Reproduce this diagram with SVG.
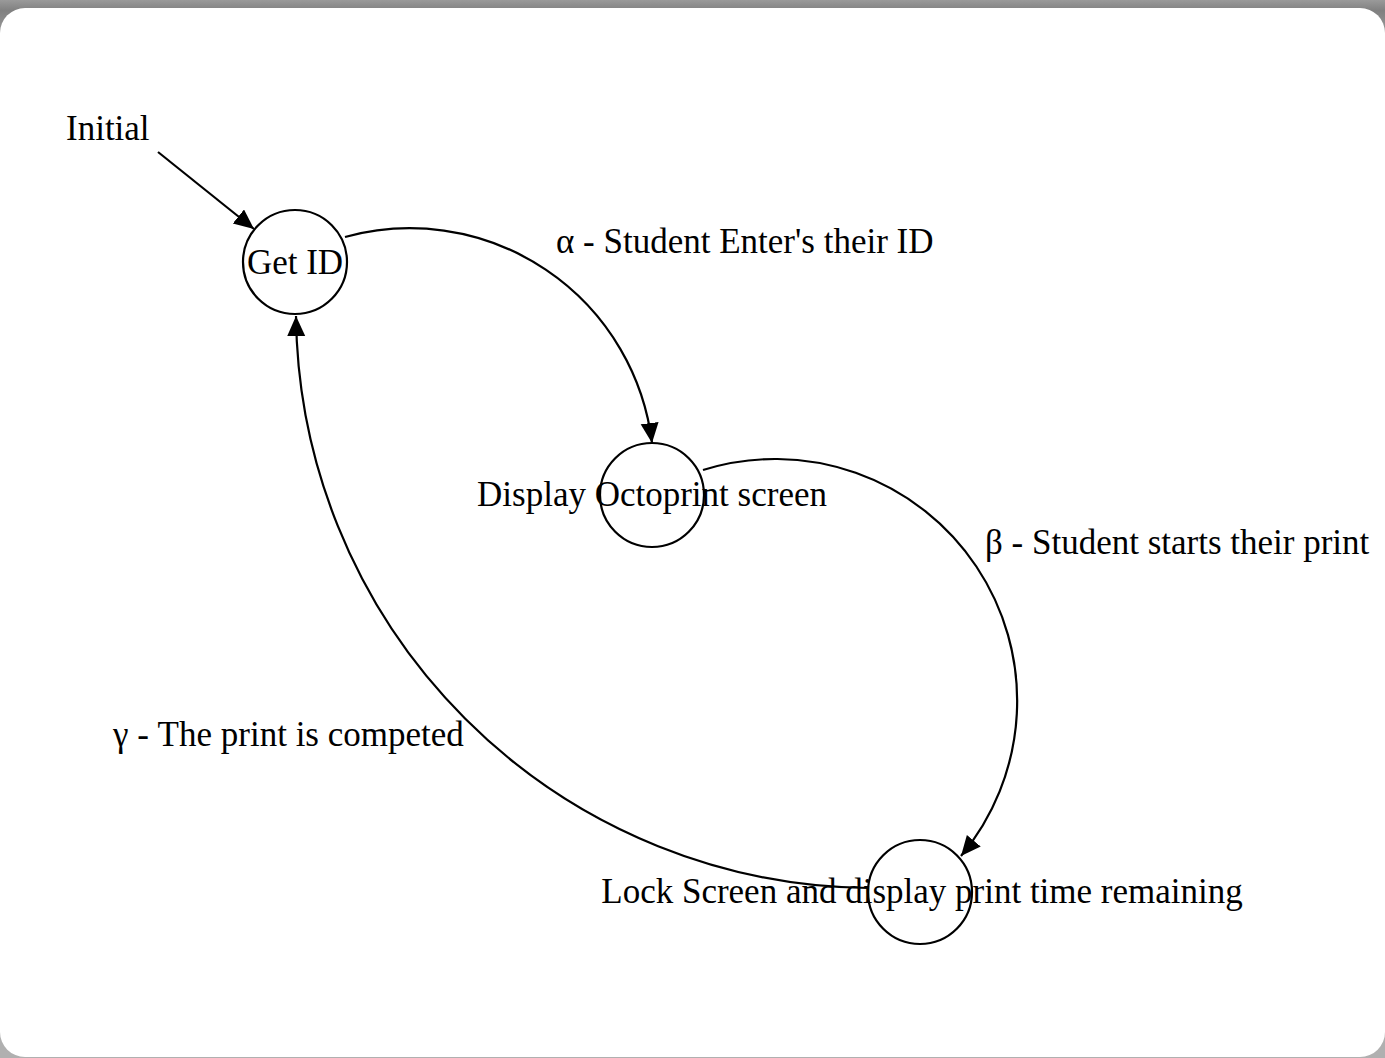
<svg xmlns="http://www.w3.org/2000/svg" width="1385" height="1058" viewBox="0 0 1385 1058">
<defs>
<linearGradient id="bg" x1="0" y1="0" x2="0" y2="1">
<stop offset="0" stop-color="#9a9a9a"/>
<stop offset="0.01" stop-color="#808080"/>
<stop offset="0.05" stop-color="#b0b0b0"/>
<stop offset="1" stop-color="#b0b0b0"/>
</linearGradient>
<marker id="arr" markerUnits="userSpaceOnUse" markerWidth="24" markerHeight="20" refX="20" refY="9" orient="auto" viewBox="0 0 24 20">
<path d="M0,0 L20,9 L0,18 Z" fill="#000"/>
</marker>
<style>
.lbl{font-family:"Liberation Serif","Times New Roman",serif;font-size:35px;fill:#000}
.st{fill:none;stroke:#000;stroke-width:2.2}
.cn{fill:none;stroke:#000;stroke-width:2.2;marker-end:url(#arr)}
</style>
</defs>
<rect x="0" y="0" width="1385" height="1058" fill="url(#bg)"/>
<rect x="0" y="8" width="1385" height="1049" rx="25" ry="25" fill="#fff"/>
<g id="connectors">
<path class="cn" d="M158,152 L254,229"/>
<path class="cn" d="M345,237 A244,244 0 0,1 652,443"/>
<path class="cn" d="M703,470 A242,242 0 0,1 961,856"/>
<path class="cn" d="M868,888 A578,578 0 0,1 296,316"/>
</g>
<g id="initial">
<text class="lbl" x="66" y="140">Initial</text>
</g>
<g id="get-id">
<circle class="st" cx="295" cy="262" r="52"/>
<text class="lbl" x="295" y="274" text-anchor="middle">Get ID</text>
</g>
<g id="display-octoprint">
<circle class="st" cx="652" cy="495" r="52"/>
<text class="lbl" x="652" y="506" text-anchor="middle">Display Octoprint screen</text>
</g>
<g id="lock-screen">
<circle class="st" cx="920" cy="892" r="52"/>
<text class="lbl" x="922" y="903" text-anchor="middle">Lock Screen and display print time remaining</text>
</g>
<g id="labels">
<text class="lbl" x="556" y="253">α - Student Enter's their ID</text>
<text class="lbl" x="985" y="554">β - Student starts their print</text>
<text class="lbl" x="113" y="746">γ - The print is competed</text>
</g>
</svg>
